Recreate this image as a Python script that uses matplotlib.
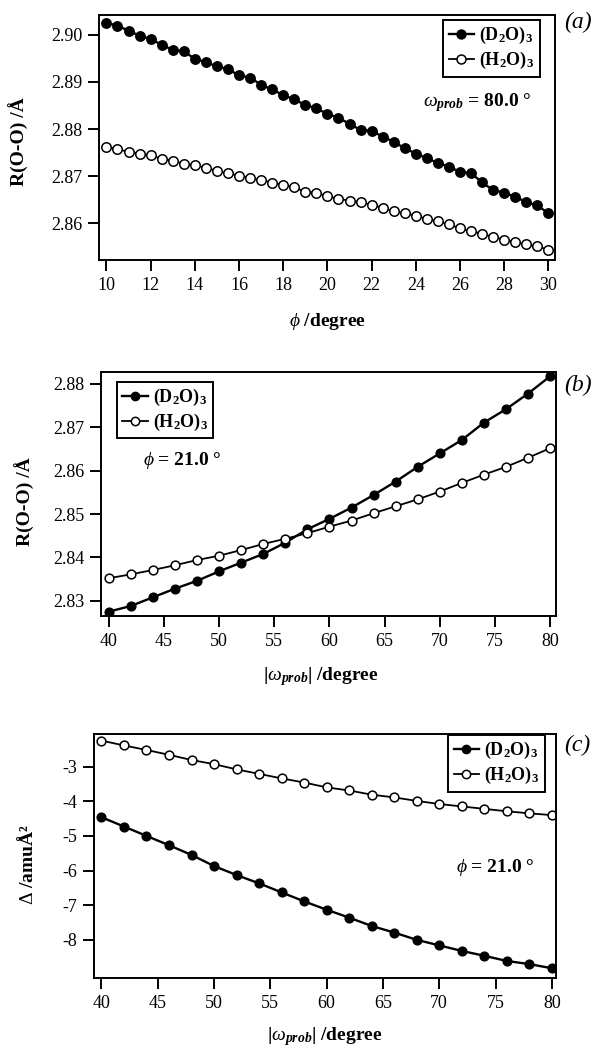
import matplotlib
matplotlib.use('Agg')
import matplotlib.pyplot as plt

plt.rcParams['font.family'] = ['Liberation Serif', 'DejaVu Serif']
plt.rcParams['mathtext.fontset'] = 'custom'
plt.rcParams['mathtext.rm'] = 'Liberation Serif'
plt.rcParams['mathtext.it'] = 'Liberation Serif:italic'
plt.rcParams['mathtext.bf'] = 'Liberation Serif:bold'
plt.rcParams['mathtext.bfit'] = 'Liberation Serif:italic:bold'

# panel (a): R(O-O) vs phi, omega_prob = 80
phi = [10.0, 10.5, 11.0, 11.5, 12.0, 12.5, 13.0, 13.5, 14.0, 14.5,
       15.0, 15.5, 16.0, 16.5, 17.0, 17.5, 18.0, 18.5, 19.0, 19.5,
       20.0, 20.5, 21.0, 21.5, 22.0, 22.5, 23.0, 23.5, 24.0, 24.5,
       25.0, 25.5, 26.0, 26.5, 27.0, 27.5, 28.0, 28.5, 29.0, 29.5, 30.0]
r_d2o_phi = [2.9026, 2.9019, 2.9009, 2.8998, 2.8991, 2.8979, 2.8968, 2.8965, 2.8949, 2.8942,
             2.8933, 2.8927, 2.8914, 2.8909, 2.8894, 2.8884, 2.8872, 2.8863, 2.8851, 2.8844,
             2.8832, 2.8824, 2.8811, 2.8798, 2.8796, 2.8784, 2.8773, 2.8759, 2.8748, 2.8738,
             2.8728, 2.8720, 2.8709, 2.8706, 2.8687, 2.8670, 2.8665, 2.8656, 2.8645, 2.8638, 2.8621]
r_h2o_phi = [2.8762, 2.8757, 2.8752, 2.8748, 2.8744, 2.8737, 2.8733, 2.8726, 2.8723, 2.8718,
             2.8711, 2.8706, 2.8701, 2.8696, 2.8692, 2.8686, 2.8682, 2.8676, 2.8667, 2.8665,
             2.8657, 2.8652, 2.8648, 2.8645, 2.8639, 2.8633, 2.8625, 2.8621, 2.8616, 2.8609,
             2.8604, 2.8598, 2.8589, 2.8583, 2.8578, 2.8571, 2.8565, 2.8560, 2.8555, 2.8551, 2.8544]

# panels (b) and (c): vs |omega_prob|, phi = 21
omega = [40, 42, 44, 46, 48, 50, 52, 54, 56, 58, 60,
         62, 64, 66, 68, 70, 72, 74, 76, 78, 80]
r_d2o_omega = [2.8275, 2.8288, 2.8308, 2.8328, 2.8346, 2.8368, 2.8388, 2.8408, 2.8434, 2.8465, 2.8489,
               2.8515, 2.8544, 2.8575, 2.8609, 2.8640, 2.8671, 2.8711, 2.8742, 2.8778, 2.8818]
r_h2o_omega = [2.8352, 2.8361, 2.8371, 2.8382, 2.8394, 2.8404, 2.8417, 2.8431, 2.8443, 2.8456, 2.8471,
               2.8485, 2.8502, 2.8518, 2.8534, 2.8552, 2.8572, 2.8591, 2.8609, 2.8630, 2.8652]
delta_d2o = [-4.46, -4.73, -5.00, -5.27, -5.55, -5.87, -6.13, -6.37, -6.63, -6.89, -7.13,
             -7.36, -7.60, -7.79, -8.00, -8.16, -8.32, -8.46, -8.61, -8.70, -8.82]
delta_h2o = [-2.25, -2.39, -2.52, -2.66, -2.81, -2.93, -3.08, -3.21, -3.34, -3.46, -3.60,
             -3.69, -3.81, -3.89, -3.99, -4.08, -4.15, -4.22, -4.29, -4.35, -4.40]

lab_d2o = r'(D$_{\mathbf{2}}$O)$_{\mathbf{3}}$'
lab_h2o = r'(H$_{\mathbf{2}}$O)$_{\mathbf{3}}$'
xlab_omega = r'|$\omega_{\mathbfit{prob}}$| /degree'


def style(ax):
    for s in ax.spines.values():
        s.set_linewidth(1.4)
    ax.tick_params(direction='out', length=8, width=1.4, labelsize=13, pad=4)


def draw(ax, x, yd, yh, legend_at, ms=6.3):
    ax.plot(x, yd, '-o', color='black', lw=1.7, ms=ms, mfc='black', mec='black', label=lab_d2o)
    ax.plot(x, yh, '-o', color='black', lw=1.3, ms=ms, mfc='white', mec='black', mew=1.1, label=lab_h2o)
    leg = ax.legend(loc='upper left', bbox_to_anchor=legend_at, borderaxespad=0,
                    prop={'weight': 'bold', 'size': 13}, fancybox=False, framealpha=1,
                    edgecolor='black', handlelength=1.4, handletextpad=0.3,
                    labelspacing=0.2, borderpad=0.3, markerscale=0.95)
    leg.get_frame().set_linewidth(1.4)
    style(ax)


fig = plt.figure(figsize=(6.01, 10.51), dpi=100)

# (a)
ax_a = fig.add_axes([0.1642, 0.7526, 0.7593, 0.2331])
draw(ax_a, phi, r_d2o_phi, r_h2o_phi, (0.755, 0.98), ms=6.8)
ax_a.set_xlim(9.65, 30.30)
ax_a.set_ylim(2.8522, 2.9042)
ax_a.set_xticks([10, 12, 14, 16, 18, 20, 22, 24, 26, 28, 30])
ax_a.set_yticks([2.86, 2.87, 2.88, 2.89, 2.90])
ax_a.set_yticklabels(['2.86', '2.87', '2.88', '2.89', '2.90'])
ax_a.text(0.9496, 0.641, r'$\omega_{\mathbfit{prob}}$ = 80.0 °', transform=ax_a.transAxes,
          ha='right', va='center', fontsize=14, fontweight='bold')
ax_a.text(0.501, -0.253, r'$\phi$ /degree', transform=ax_a.transAxes,
          ha='center', va='center', fontsize=14, fontweight='bold')
ax_a.text(-0.1747, 0.482, 'R(O-O) /Å', transform=ax_a.transAxes, rotation=90,
          ha='center', va='center', fontsize=14, fontweight='bold')

# (b)
ax_b = fig.add_axes([0.1687, 0.4139, 0.7564, 0.2319])
draw(ax_b, omega, r_d2o_omega, r_h2o_omega, (0.034, 0.961))
ax_b.set_xlim(39.34, 80.52)
ax_b.set_ylim(2.8265, 2.8827)
ax_b.set_xticks([40, 45, 50, 55, 60, 65, 70, 75, 80])
ax_b.set_yticks([2.83, 2.84, 2.85, 2.86, 2.87, 2.88])
ax_b.set_yticklabels(['2.83', '2.84', '2.85', '2.86', '2.87', '2.88'])
ax_b.text(0.0915, 0.640, r'$\phi$ = 21.0 °', transform=ax_b.transAxes,
          ha='left', va='center', fontsize=14, fontweight='bold')
ax_b.text(0.483, -0.250, xlab_omega, transform=ax_b.transAxes,
          ha='center', va='center', fontsize=14, fontweight='bold')
ax_b.text(-0.168, 0.468, 'R(O-O) /Å', transform=ax_b.transAxes, rotation=90,
          ha='center', va='center', fontsize=14, fontweight='bold')

# (c)
ax_c = fig.add_axes([0.1564, 0.0695, 0.7682, 0.2322])
draw(ax_c, omega, delta_d2o, delta_h2o, (0.767, 0.996))
ax_c.set_xlim(39.34, 80.34)
ax_c.set_ylim(-9.10, -2.057)
ax_c.set_xticks([40, 45, 50, 55, 60, 65, 70, 75, 80])
ax_c.set_yticks([-8, -7, -6, -5, -4, -3])
ax_c.set_yticklabels(['-8', '-7', '-6', '-5', '-4', '-3'])
ax_c.text(0.955, 0.451, r'$\phi$ = 21.0 °', transform=ax_c.transAxes,
          ha='right', va='center', fontsize=14, fontweight='bold')
ax_c.text(0.499, -0.2406, xlab_omega, transform=ax_c.transAxes,
          ha='center', va='center', fontsize=14, fontweight='bold')
ax_c.text(-0.145, 0.467, r'$\mathit{\Delta}$ /amuÅ²', transform=ax_c.transAxes, rotation=90,
          ha='center', va='center', fontsize=14, fontweight='bold')

for lab, y in [('(a)', 0.979), ('(b)', 0.6337), ('(c)', 0.2911)]:
    fig.text(0.938, y, lab, ha='left', va='center', fontsize=17, fontstyle='italic')

fig.savefig('out.png', dpi=100)
